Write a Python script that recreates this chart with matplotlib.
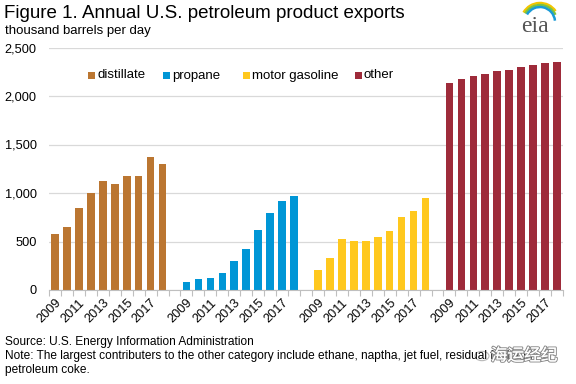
import matplotlib
matplotlib.use("Agg")
import matplotlib.pyplot as plt
import matplotlib.patheffects as pe
import numpy as np
from matplotlib.patches import Rectangle, Arc, Circle

plt.rcParams["font.family"] = ["Liberation Sans", "DejaVu Sans"]

years = list(range(2009, 2019))
series_names = ["distillate", "propane", "motor gasoline", "other"]
distillate = [580, 653, 849, 1003, 1124, 1096, 1178, 1178, 1374, 1299]
propane = [86, 113, 127, 179, 302, 426, 622, 797, 921, 972]
motor_gasoline = [206, 330, 526, 505, 505, 546, 608, 756, 814, 952]
other = [2134, 2175, 2206, 2227, 2258, 2268, 2299, 2320, 2340, 2351]
colors = ["#BB7631", "#0096D6", "#FFC81E", "#9E2B3A"]
y_ticks = [0, 500, 1000, 1500, 2000, 2500]

all_series = [distillate, propane, motor_gasoline, other]
group_step = len(years) + 1
W, H = 576, 384


def fx(px):
    return px / W


def fy(py):
    return 1 - py / H


fig = plt.figure(figsize=(5.76, 3.84), dpi=100)
ax = fig.add_axes([fx(49), fy(290), (563 - 49) / W, (290 - 47.5) / H])

tick_pos, tick_lab = [], []
for g, (vals, color) in enumerate(zip(all_series, colors)):
    x = np.arange(len(years)) + g * group_step
    ax.bar(x, vals, width=0.64, color=color, label=series_names[g], zorder=3)
    for i in range(0, len(years), 2):
        tick_pos.append(x[i])
        tick_lab.append(str(years[i]))

ax.set_xlim(-0.5, 4 * group_step - 1 - 0.5)
ax.set_ylim(0, 2500)
ax.set_yticks(y_ticks)
ax.set_yticklabels([f"{v:,}" for v in y_ticks], fontsize=9.2)
ax.tick_params(axis="y", length=0, pad=9)
ax.grid(axis="y", color="#D9D9D9", linewidth=0.9, zorder=0)

ax.set_xticks(tick_pos)
ax.set_xticklabels(tick_lab, rotation=45, ha="right", va="top",
                   rotation_mode="anchor", fontsize=9.2)
ax.tick_params(axis="x", length=0, pad=5)
ax.set_xticks(np.arange(-0.5, 4 * group_step - 1, 1), minor=True)
ax.tick_params(axis="x", which="minor", length=4, color="#BFBFBF", width=0.8)

for side in ["top", "right", "left"]:
    ax.spines[side].set_visible(False)
ax.spines["bottom"].set_color("#BFBFBF")
ax.spines["bottom"].set_zorder(4)

# legend, drawn by hand to match the original spacing
legend_x = [88, 163, 243, 355]
for lx, c, name in zip(legend_x, colors, series_names):
    fig.patches.append(Rectangle((fx(lx), fy(79)), 7 / W, 7 / H, transform=fig.transFigure,
                                 facecolor=c, edgecolor="none"))
    fig.text(fx(lx + 9), fy(75.5), name, fontsize=9.5, va="center", ha="left")

fig.text(fx(4), fy(13), "Figure 1. Annual U.S. petroleum product exports",
         fontsize=13.5, va="center", ha="left")
fig.text(fx(5), fy(31), "thousand barrels per day", fontsize=9.5, va="center", ha="left")
fig.text(fx(5), fy(342), "Source: U.S. Energy Information Administration",
         fontsize=8.6, va="center", ha="left")
fig.text(fx(5), fy(356),
         "Note: The largest contributers to the other category include ethane, naptha, jet fuel, residual fuel and",
         fontsize=8.6, va="center", ha="left")
fig.text(fx(5), fy(370), "petroleum coke.", fontsize=8.6, va="center", ha="left")

# watermark
fig.patches.append(Circle((fx(482), fy(356)), 7 / W, transform=fig.transFigure,
                          facecolor="white", edgecolor="#B0B0B0", linewidth=0.8, alpha=0.9))
wm = fig.text(fx(524), fy(356), "海运经纪", fontsize=12, va="center", ha="center",
              family=["Noto Sans CJK SC", "DejaVu Sans"], color="white")
wm.set_path_effects([pe.withStroke(linewidth=1.6, foreground="#8C8C8C"), pe.Normal()])

# eia logo
fig.text(fx(535), fy(26), "eia", fontsize=17, family="Liberation Serif",
         color="#555555", va="center", ha="center")
lax = fig.add_axes([fx(515), fy(30), 50 / W, 30 / H])
lax.set_xlim(0, 50)
lax.set_ylim(0, 30)
lax.axis("off")
for r, c, t1 in zip([19, 17, 15], ["#F2C500", "#7CC242", "#1A9BD7"], [35, 25, 5]):
    lax.add_patch(Arc((25, 8), 2 * r, 2 * r, theta1=t1, theta2=150, color=c, linewidth=1.8))

fig.savefig("out.png", dpi=100)
